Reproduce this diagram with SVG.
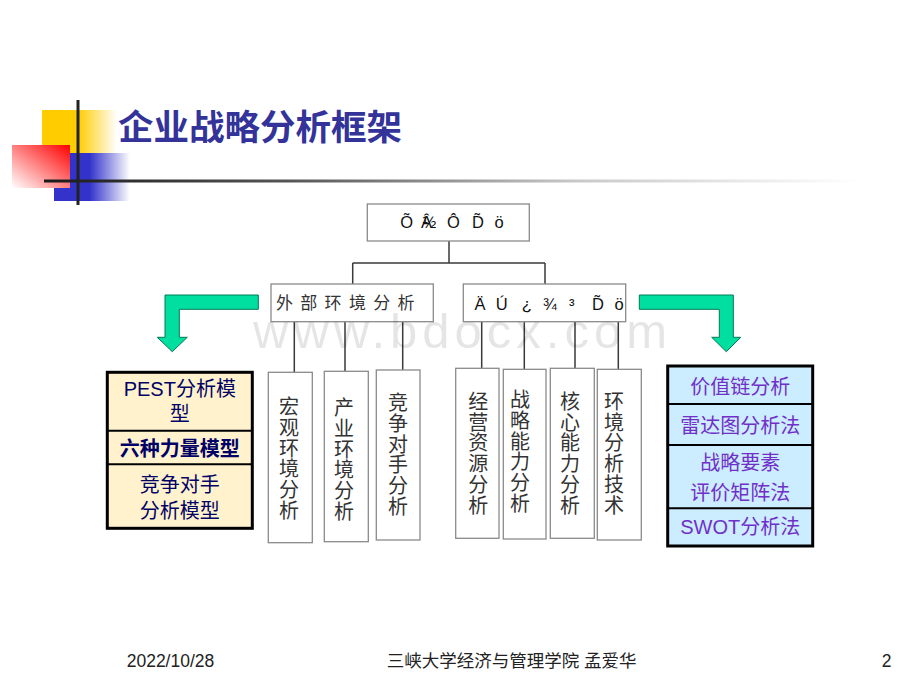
<svg xmlns="http://www.w3.org/2000/svg" width="920" height="690" viewBox="0 0 920 690">
<defs>
<linearGradient id="gY" x1="0" y1="0" x2="1" y2="0"><stop offset="0" stop-color="#FFCC00"/><stop offset="0.48" stop-color="#FFCC00"/><stop offset="1" stop-color="#FFCC00" stop-opacity="0"/></linearGradient>
<linearGradient id="gB" x1="0" y1="0" x2="1" y2="0"><stop offset="0" stop-color="#3333CC"/><stop offset="0.47" stop-color="#3333CC"/><stop offset="1" stop-color="#3333CC" stop-opacity="0"/></linearGradient>
<linearGradient id="gR" x1="1" y1="0" x2="0" y2="1"><stop offset="0" stop-color="#FF0000"/><stop offset="1" stop-color="#FFFFFF"/></linearGradient>
<linearGradient id="gL" x1="0" y1="0" x2="1" y2="0"><stop offset="0" stop-color="#1a1a1a"/><stop offset="0.3" stop-color="#555"/><stop offset="0.65" stop-color="#c8c8c8"/><stop offset="1" stop-color="#fff"/></linearGradient>
<style>
.box{fill:#fff;stroke:#8a8a8a;stroke-width:1.3}
.con{stroke:#3a3a3a;stroke-width:1.5;fill:none}
.vt{font-family:"Noto Sans CJK SC","Noto Sans CJK JP",sans-serif;font-size:20px;fill:#333;text-anchor:middle}
.g{font-family:"Liberation Sans",Arial,sans-serif;font-size:16.5px;fill:#111;text-anchor:middle}
.arrow{fill:#00DFA0;stroke:#007a55;stroke-width:1}
.lt{font-family:"Liberation Sans","Noto Sans CJK SC",sans-serif;font-size:20px;fill:#000066;text-anchor:middle}
.rt{font-family:"Liberation Sans","Noto Sans CJK SC",sans-serif;font-size:20px;fill:#7030C8;text-anchor:middle}
.ft{font-family:"Liberation Sans","Noto Sans CJK SC",sans-serif;font-size:17.5px;fill:#222}
</style>
</defs>
<rect width="920" height="690" fill="#fff"/>

<g id="logo">
<rect x="42" y="110" width="75" height="43" fill="url(#gY)"/>
<rect x="54" y="153" width="76" height="48" fill="url(#gB)"/>
<rect x="12" y="145" width="58" height="43" fill="url(#gR)"/>
<line x1="78" y1="100" x2="78" y2="205" stroke="#222" stroke-width="3"/>
<rect x="44" y="179.5" width="816" height="3" fill="url(#gL)"/>
</g>
<text id="title" x="118" y="140" font-family="'Noto Sans CJK SC','Noto Sans CJK JP',sans-serif" font-size="35.5" font-weight="bold" fill="#333399">企业战略分析框架</text>

<g id="connectors">
<path class="con" d="M449,241V263M352.7,263H545M352.7,263V284M545,263V284"/>
<path class="con" d="M294.3,322V372M345,322V371M402.7,322V370M481.7,322V368M524.3,322V369M575,322V368M618.3,322V369"/>
</g>

<g id="root">
<rect class="box" x="367.3" y="204" width="162" height="37"/>
<text class="g" x="406.7" y="227.5">Õ</text>
<text class="g" x="424" y="227.5" letter-spacing="-9.5" text-anchor="start">Â½</text>
<text class="g" x="453.5" y="227.5">Ô</text>
<text class="g" x="478" y="227.5">D̃</text>
<text class="g" x="499" y="227.5">ö</text>
</g>

<g id="external">
<rect class="box" x="271" y="284" width="162.3" height="37.7"/>
<text x="276" y="309" font-family="'Noto Sans CJK SC','Noto Sans CJK JP',sans-serif" font-size="17" letter-spacing="7.3" fill="#333">外部环境分析</text>
</g>

<g id="internal">
<rect class="box" x="463.3" y="284" width="162.4" height="37.7"/>
<text class="g" x="480" y="309.5">Ä</text>
<text class="g" x="501.7" y="309.5">Ú</text>
<text class="g" x="526.7" y="309.5">¿</text>
<text class="g" x="550" y="309.5">¾</text>
<text class="g" x="571.7" y="309.5">³</text>
<text class="g" x="598" y="309.5">D̃</text>
<text class="g" x="619" y="309.5">ö</text>
</g>

<g id="n1"><rect class="box" x="268.3" y="372.3" width="44" height="170.4"/>
<text class="vt"><tspan x="289" y="414">宏</tspan><tspan x="289" dy="20.8">观</tspan><tspan x="289" dy="20.8">环</tspan><tspan x="289" dy="20.8">境</tspan><tspan x="289" dy="20.8">分</tspan><tspan x="289" dy="20.8">析</tspan></text></g>
<g id="n2"><rect class="box" x="324.3" y="371.3" width="44" height="170.4"/>
<text class="vt"><tspan x="344" y="415">产</tspan><tspan x="344" dy="20.8">业</tspan><tspan x="344" dy="20.8">环</tspan><tspan x="344" dy="20.8">境</tspan><tspan x="344" dy="20.8">分</tspan><tspan x="344" dy="20.8">析</tspan></text></g>
<g id="n3"><rect class="box" x="376.3" y="370" width="43.7" height="170"/>
<text class="vt"><tspan x="398" y="410">竞</tspan><tspan x="398" dy="20.8">争</tspan><tspan x="398" dy="20.8">对</tspan><tspan x="398" dy="20.8">手</tspan><tspan x="398" dy="20.8">分</tspan><tspan x="398" dy="20.8">析</tspan></text></g>
<g id="n4"><rect class="box" x="455.7" y="368.3" width="43.3" height="170"/>
<text class="vt"><tspan x="478.3" y="408.7">经</tspan><tspan x="478.3" dy="20.8">营</tspan><tspan x="478.3" dy="20.8">资</tspan><tspan x="478.3" dy="20.8">源</tspan><tspan x="478.3" dy="20.8">分</tspan><tspan x="478.3" dy="20.8">析</tspan></text></g>
<g id="n5"><rect class="box" x="503.3" y="369.3" width="42.7" height="169.7"/>
<text class="vt"><tspan x="520" y="407">战</tspan><tspan x="520" dy="20.8">略</tspan><tspan x="520" dy="20.8">能</tspan><tspan x="520" dy="20.8">力</tspan><tspan x="520" dy="20.8">分</tspan><tspan x="520" dy="20.8">析</tspan></text></g>
<g id="n6"><rect class="box" x="550.3" y="368.3" width="44" height="170"/>
<text class="vt"><tspan x="570" y="408.7">核</tspan><tspan x="570" dy="20.8">心</tspan><tspan x="570" dy="20.8">能</tspan><tspan x="570" dy="20.8">力</tspan><tspan x="570" dy="20.8">分</tspan><tspan x="570" dy="20.8">析</tspan></text></g>
<g id="n7"><rect class="box" x="597.3" y="369.3" width="44" height="170.7"/>
<text class="vt"><tspan x="614" y="408.7">环</tspan><tspan x="614" dy="20.8">境</tspan><tspan x="614" dy="20.8">分</tspan><tspan x="614" dy="20.8">析</tspan><tspan x="614" dy="20.8">技</tspan><tspan x="614" dy="20.8">术</tspan></text></g>

<g id="arrow-left"><path class="arrow" d="M258.3,295H165V337.3H157.3L172.3,351.7L187.3,337.3H179.3V309.3H258.3Z"/></g>
<g id="arrow-right"><path class="arrow" d="M639.3,295H733.3V337.3H740.7L726.3,351.7L711.7,337.3H719.3V309.3H639.3Z"/></g>

<g id="left-list">
<rect x="107.3" y="372.3" width="145" height="156" fill="#FFF2CC" stroke="#000" stroke-width="3"/>
<line x1="107.3" y1="430.7" x2="252.3" y2="430.7" stroke="#000" stroke-width="2"/>
<line x1="107.3" y1="464.3" x2="252.3" y2="464.3" stroke="#000" stroke-width="2"/>
<text class="lt" x="179.8" y="396">PEST分析模</text>
<text class="lt" x="179.8" y="421">型</text>
<text class="lt" x="179.8" y="456" font-weight="bold">六种力量模型</text>
<text class="lt" x="179.8" y="492">竞争对手</text>
<text class="lt" x="179.8" y="518">分析模型</text>
</g>

<g id="right-list">
<rect x="667.7" y="366" width="145" height="180" fill="#CCECFF" stroke="#000" stroke-width="3"/>
<line x1="667.7" y1="404" x2="812.7" y2="404" stroke="#000" stroke-width="2"/>
<line x1="667.7" y1="445" x2="812.7" y2="445" stroke="#000" stroke-width="2"/>
<line x1="667.7" y1="508.3" x2="812.7" y2="508.3" stroke="#000" stroke-width="2"/>
<text class="rt" x="740.2" y="394">价值链分析</text>
<text class="rt" x="740.2" y="432.5">雷达图分析法</text>
<text class="rt" x="740.2" y="470">战略要素</text>
<text class="rt" x="740.2" y="499.5">评价矩阵法</text>
<text class="rt" x="740.2" y="534" fill="#6010C0">SWOT分析法</text>
</g>

<text id="watermark" x="253" y="348" font-family="'Liberation Sans',Arial,sans-serif" font-size="49" textLength="414" lengthAdjust="spacing" fill="#000" fill-opacity="0.1">www.bdocx.com</text>

<g id="footer">
<text class="ft" x="126.7" y="667">2022/10/28</text>
<text class="ft" x="386.7" y="667" fill="#333">三峡大学经济与管理学院 孟爱华</text>
<text class="ft" x="881.7" y="667">2</text>
</g>
</svg>
